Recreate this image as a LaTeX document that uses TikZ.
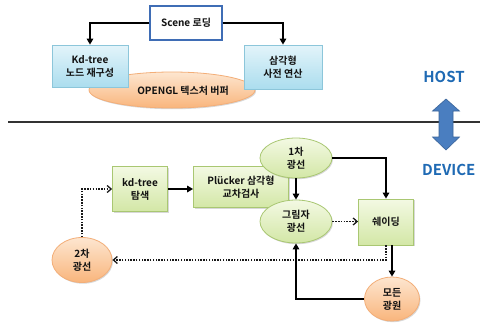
\documentclass[tikz,border=0pt]{standalone}
\usepackage{fontspec}
\setmainfont{Noto Sans CJK KR}[BoldFont={Noto Sans CJK KR Bold}]
\usetikzlibrary{arrows.meta,shapes.geometric,shadows}
\definecolor{bluebd}{HTML}{8CC6DA}
\definecolor{bluetop}{HTML}{E3F4FA}
\definecolor{bluebot}{HTML}{ABDDEE}
\definecolor{greenbd}{HTML}{A9C772}
\definecolor{greentop}{HTML}{F3F9E3}
\definecolor{greenbot}{HTML}{D3E7A6}
\definecolor{orbd}{HTML}{F3AE78}
\definecolor{ortop}{HTML}{FDE6D0}
\definecolor{orbot}{HTML}{F9B57C}
\definecolor{scenebd}{HTML}{3F6DB5}
\definecolor{hostblue}{HTML}{1F6AB4}
\definecolor{arrowblue}{HTML}{4A7EC0}
\definecolor{txt}{HTML}{111111}
\tikzset{
  lbl/.style={font=\bfseries\fontsize{10}{13}\selectfont, text=txt, align=center, inner sep=0pt},
  shad/.style={drop shadow={shadow xshift=1pt, shadow yshift=-1.2pt, opacity=0.25, fill=black!60}},
  bluebox/.style={lbl, rectangle, draw=bluebd, line width=0.8pt, top color=bluetop, bottom color=bluebot, shad},
  greenbox/.style={lbl, rectangle, draw=greenbd, line width=0.8pt, top color=greentop, bottom color=greenbot, shad},
  greenell/.style={lbl, ellipse, draw=greenbd, line width=0.8pt, top color=greentop, bottom color=greenbot, shad},
  orell/.style={lbl, ellipse, draw=orbd, line width=0.8pt, top color=ortop, bottom color=orbot, shad},
  scenebox/.style={lbl, rectangle, draw=scenebd, line width=1.3pt, fill=white, shad},
  arr/.style={draw=black, line width=1.5pt, -{Triangle[length=6pt,width=6.5pt]}},
  dotarr/.style={draw=black!90, line width=1.6pt, dash pattern=on 1.5pt off 1.3pt, -{Straight Barb[length=4pt,width=7pt,line width=1.3pt]}},
  sidetxt/.style={font=\bfseries\fontsize{15}{15}\selectfont, text=hostblue, inner sep=0pt}
}
\begin{document}
\begin{tikzpicture}[x=1pt,y=-1pt]
\useasboundingbox[fill=white] (0,0) rectangle (480,322);
% host part
\node[orell, minimum width=166pt, minimum height=36pt] (ogl) at (172,90) {};
\node[bluebox, minimum width=76pt, minimum height=42pt] (kdn) at (90,66) {Kd-tree\\노드 재구성};
\node[bluebox, minimum width=78pt, minimum height=44pt] (tri) at (283,67) {삼각형\\사전 연산};
\node[lbl] (ogltxt) at (183,91) {OPENGL 텍스처 버퍼};
\node[scenebox, minimum width=72pt, minimum height=34pt] (scene) at (186,23) {Scene 로딩};
\draw[arr] (scene.west) -| (kdn.north);
\draw[arr] (scene.east) -| (tri.north);
% separator
\coordinate (sepL) at (8,122);
\coordinate (sepR) at (480,122);
\draw[line width=1.3pt, black!80] (sepL) -- (sepR);
\node[sidetxt] (host) at (444,76.5) {HOST};
\node[sidetxt, anchor=west] (device) at (422,170) {DEVICE};
\draw[fill=arrowblue, draw=arrowblue!80!black, line width=0.6pt]
  (446,99) -- (459.5,111) -- (453,111) -- (453,137) -- (459.5,137) -- (446,150)
  -- (432.5,137) -- (439,137) -- (439,111) -- (432.5,111) -- cycle;
% device part
\node[greenbox, minimum width=55pt, minimum height=45pt] (kds) at (140,189) {kd-tree\\탐색};
\node[greenbox, minimum width=95pt, minimum height=41pt] (plk) at (241,187) {Plücker 삼각형\\교차검사};
\node[greenell, minimum width=72pt, minimum height=40pt] (r1) at (296,158) {1차\\광선};
\node[greenell, minimum width=72pt, minimum height=43pt] (sh) at (296,221.5) {그림자\\광선};
\node[greenbox, minimum width=55pt, minimum height=46pt] (shd) at (386,222) {쉐이딩};
\node[orell, minimum width=55pt, minimum height=44pt] (all) at (392,299) {모든\\광원};
\node[orell, minimum width=60pt, minimum height=45pt] (r2) at (82,260) {2차\\광선};
\draw[arr] (kds.east) -- (kds.east -| plk.west);
\draw[arr] (r1.south) -- (sh.north);
\draw[arr] (r1.east) -| (shd.north);
\draw[dotarr] (sh.east) -- (sh.east -| shd.west);
\draw[arr] (all.north |- shd.south) -- (all.north);
\draw[dotarr] (shd.south) |- (r2.east);
\draw[arr] (all.west) -| (sh.south);
\draw[dotarr] (r2.north) |- (kds.west);
\end{tikzpicture}
\end{document}
